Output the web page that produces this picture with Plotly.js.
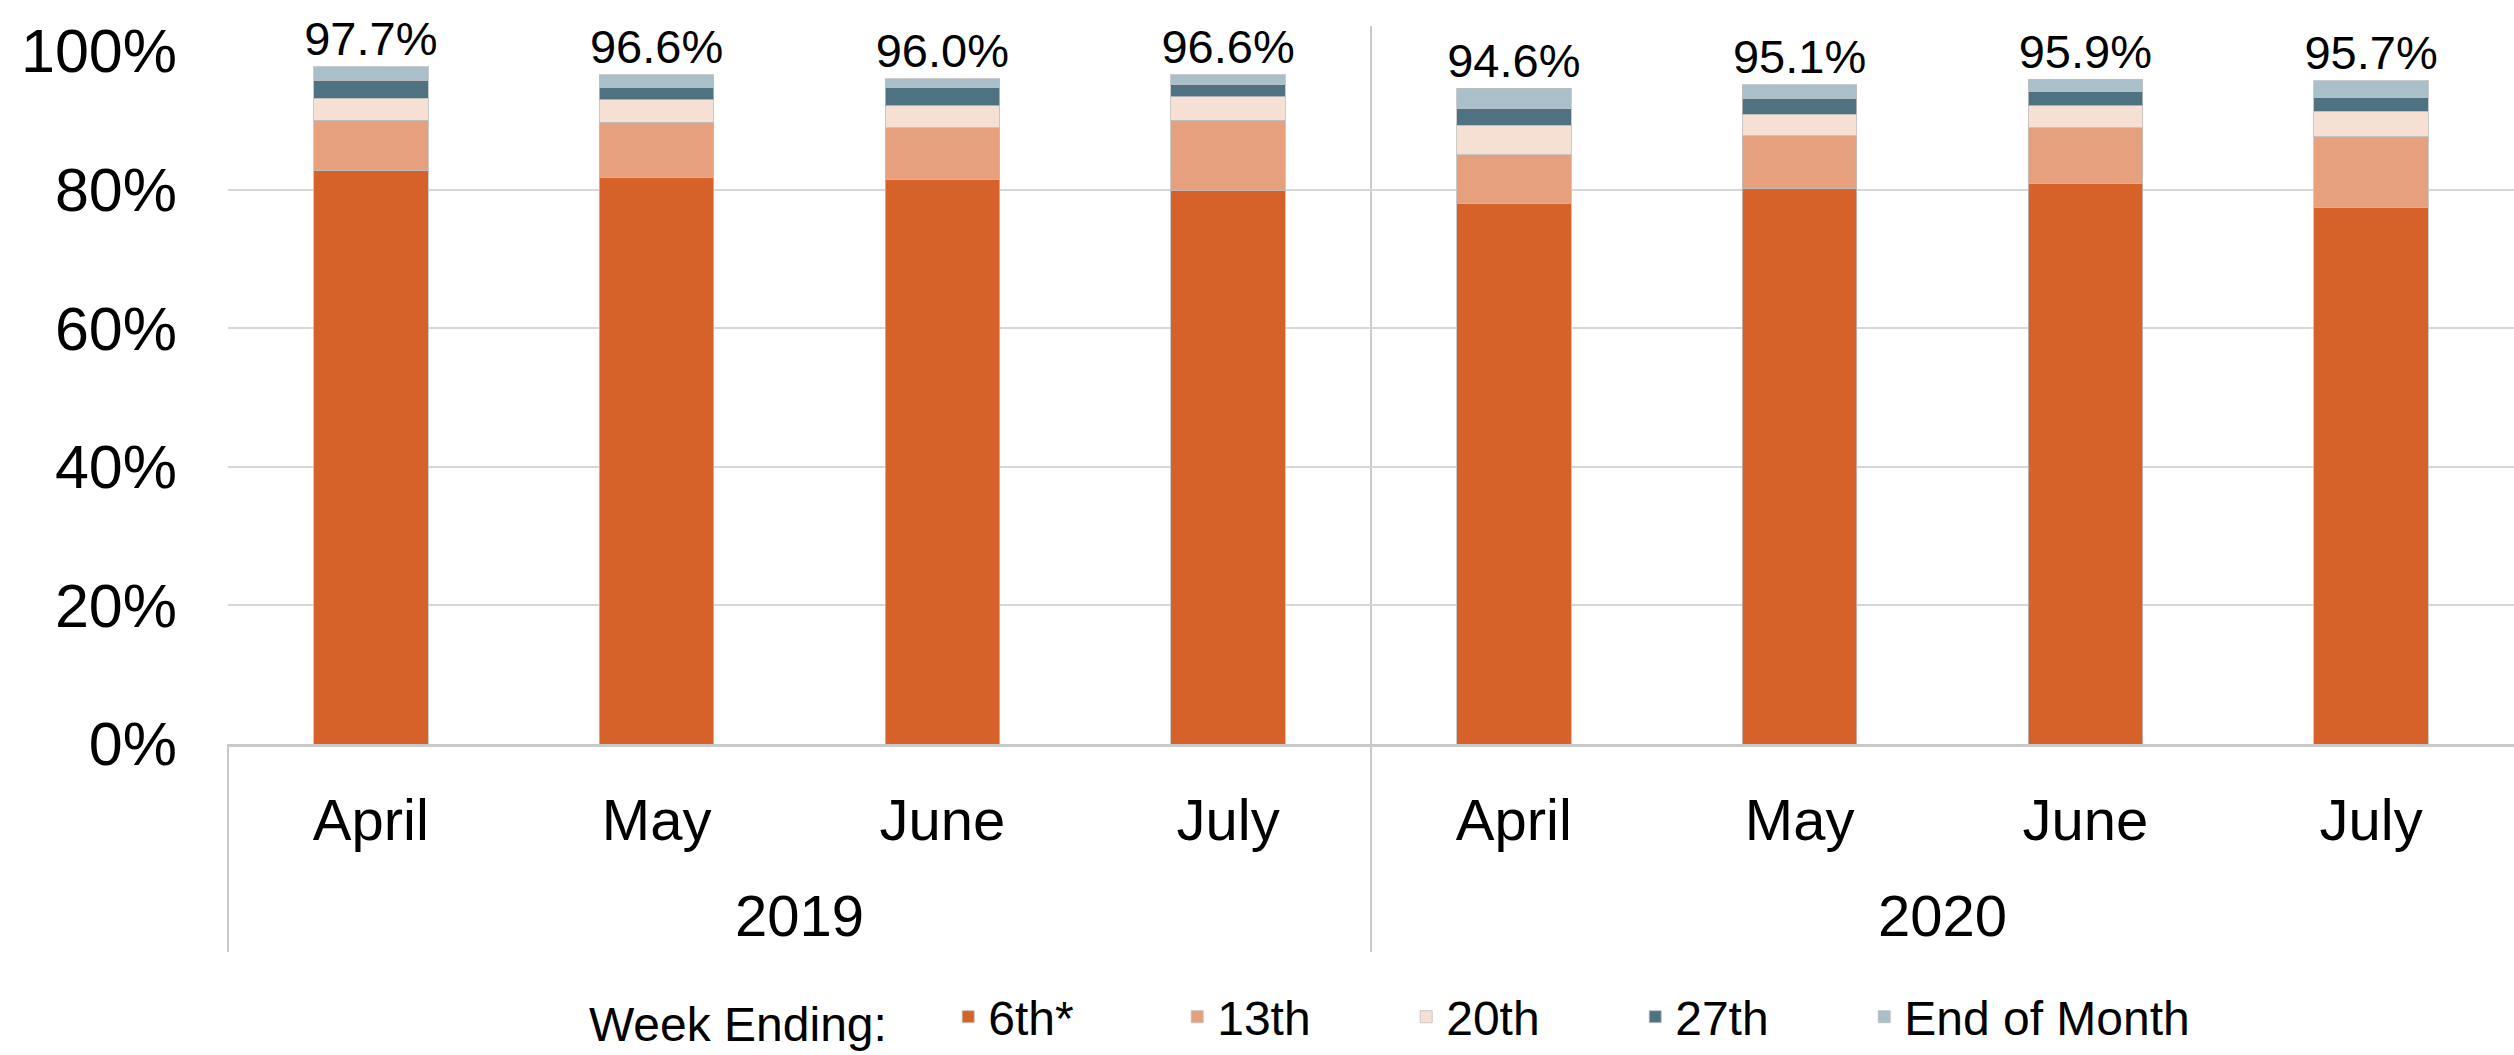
<!DOCTYPE html>
<html>
<head>
<meta charset="utf-8">
<script src="https://cdn.plot.ly/plotly-3.0.1.min.js"></script>
<style>
html,body{margin:0;padding:0;background:#fff;}
#chart{width:2514px;height:1055px;}
</style>
</head>
<body>
<div id="chart"></div>
<script>
// ---- data ----
const years = ["2019","2019","2019","2019","2020","2020","2020","2020"];
const months = ["April","May","June","July","April","May","June","July"];
const yearLabels = ["2019","2020"];
const week6th  = [82.8, 81.7, 81.5, 79.8, 78.0, 80.2, 80.9, 77.4];
const week13th = [ 7.2,  8.0,  7.4, 10.2,  7.0,  7.6,  8.0, 10.2];
const week20th = [ 3.2,  3.3,  3.2,  3.4,  4.3,  3.1,  3.2,  3.7];
const week27th = [ 2.6,  1.8,  2.6,  1.7,  2.4,  2.3,  2.0,  2.0];
const weekEOM  = [ 1.9,  1.8,  1.3,  1.5,  2.9,  1.9,  1.8,  2.4];
const totalLabels = ["97.7%","96.6%","96.0%","96.6%","94.6%","95.1%","95.9%","95.7%"];
const totalValues = [97.7, 96.6, 96.0, 96.6, 94.6, 95.1, 95.9, 95.7];
const seriesNames = ["6th*","13th","20th","27th","End of Month"];
const yTickVals = [0,20,40,60,80,100];
const yTickText = ["0%","20%","40%","60%","80%","100%"];

const colors = ["#D6622A","#E6A07D","#F6DFD3","#4E7282","#A9BFC9"];
const seriesData = [week6th, week13th, week20th, week27th, weekEOM];
const legendWidths = [184, 184, 184, 184, 320];
const FONT = "Liberation Sans, Arial, sans-serif";
const GRID = "#c9c9c9";

// unique category key per bar; the axis shows the month name
const xKeys = months.map((m, i) => m + " " + years[i]);

const traces = seriesData.map((vals, i) => ({
  type: "bar",
  name: seriesNames[i],
  x: xKeys,
  y: vals,
  width: 0.4,
  legendwidth: legendWidths[i],
  marker: {color: colors[i], line: {color: "rgba(190,190,190,0.8)", width: 1}},
  hoverinfo: "skip"
}));

traces.push({
  type: "scatter",
  mode: "text",
  x: xKeys,
  y: totalValues,
  text: totalLabels,
  textposition: "top center",
  textfont: {family: FONT, size: 47, color: "#000"},
  showlegend: false,
  hoverinfo: "skip",
  cliponaxis: false
});

// year group labels + group dividers (layout decoration)
const nYears = yearLabels.length;
const annotations = yearLabels.map((yr, i) => ({
  text: yr, xref: "paper", yref: "paper",
  x: (i + 0.5) / nYears, y: -0.247,
  xanchor: "center", yanchor: "middle",
  showarrow: false,
  font: {family: FONT, size: 58, color: "#000"}
}));
const shapes = [];
for (let i = 0; i < nYears; i++) {
  shapes.push({
    type: "line", xref: "paper", yref: "paper",
    x0: i / nYears, x1: i / nYears, y0: -0.30, y1: i === 0 ? 0 : 1.036,
    line: {color: GRID, width: 2}, layer: "below"
  });
}

const layout = {
  width: 2514,
  height: 1055,
  margin: {l: 228, r: 0, t: 51, b: 304, pad: 0},
  paper_bgcolor: "#fff",
  plot_bgcolor: "#fff",
  barmode: "stack",
  font: {family: FONT, color: "#000"},
  showlegend: true,
  legend: {
    orientation: "h",
    x: 0.157, xanchor: "left",
    y: -0.394, yanchor: "middle",
    title: {text: "Week Ending:\u00a0\u00a0\u00a0\u00a0", side: "left", font: {family: FONT, size: 48, color: "#000"}},
    font: {family: FONT, size: 48, color: "#000"},
    traceorder: "normal",
    bgcolor: "rgba(0,0,0,0)"
  },
  xaxis: {
    type: "category",
    tickvals: xKeys,
    ticktext: months,
    showline: true,
    linecolor: GRID,
    linewidth: 3,
    ticks: "",
    showgrid: false,
    tickfont: {family: FONT, size: 58, color: "#000"},
    ticklabelstandoff: 23,
    fixedrange: true
  },
  yaxis: {
    range: [0, 100],
    tickvals: yTickVals,
    ticktext: yTickText,
    showgrid: true,
    gridcolor: "#d6d6d6",
    gridwidth: 2,
    zeroline: false,
    showline: false,
    ticks: "",
    ticklabelstandoff: 50,
    tickfont: {family: FONT, size: 61, color: "#000"},
    fixedrange: true
  },
  annotations: annotations,
  shapes: shapes
};

Plotly.newPlot("chart", traces, layout, {displayModeBar: false, staticPlot: true});
</script>
</body>
</html>
